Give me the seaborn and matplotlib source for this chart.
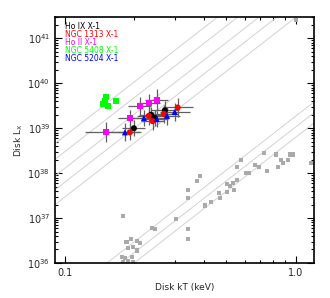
import seaborn as sns
import matplotlib
matplotlib.use('Agg')
import matplotlib.pyplot as plt
import matplotlib.ticker as mticker
import pandas as pd
import numpy as np

# lower sample (grey squares)
grey_kt = [0.178, 0.238, 0.245, 0.303, 0.341, 0.341, 0.341, 0.341, 0.372, 0.384,
           0.403, 0.428, 0.464, 0.469, 0.502, 0.518, 0.502, 0.533, 0.556, 0.539,
           0.556, 0.578, 0.608, 0.627, 0.665, 0.692, 0.749, 0.726, 0.819, 0.835,
           0.861, 0.879, 0.923, 0.942, 0.971, 1.0, 1.17,
           0.185, 0.193, 0.205, 0.197, 0.187, 0.205, 0.177, 0.182, 0.195, 0.197,
           0.187, 0.178, 0.211]
grey_lx = [1.1e37, 6.0e36, 5.7e36, 9.5e36, 4.2e37, 2.8e37, 5.7e36, 3.4e36, 6.6e37, 8.5e37,
           1.9e37, 2.3e37, 3.6e37, 2.8e37, 5.7e37, 5.1e37, 3.8e37, 6.0e37, 7.0e37, 4.2e37,
           1.4e38, 2.0e38, 1.0e38, 1.0e38, 1.5e38, 1.4e38, 1.1e38, 2.8e38, 2.6e38, 1.35e38,
           2.0e38, 1.7e38, 2.0e38, 2.6e38, 2.6e38, 2.6e41, 1.7e38,
           2.9e36, 3.4e36, 3.1e36, 2.3e36, 2.2e36, 1.9e36, 1.36e36, 1.3e36, 1.36e36, 1.05e36,
           1.1e36, 1.05e36, 2.8e36]

# ULX sources
sources = ['Ho IX X-1', 'NGC 1313 X-1', 'Ho II X-1', 'NGC 5408 X-1', 'NGC 5204 X-1']
colors = ['black', 'red', 'magenta', '#00ff00', 'blue']
markers = ['o', 'o', 's', 's', '^']

ulx_src = (['Ho IX X-1'] * 4 + ['NGC 1313 X-1'] * 5 + ['Ho II X-1'] * 5
           + ['NGC 5408 X-1'] * 5 + ['NGC 5204 X-1'] * 5)
ulx_kt = [0.199, 0.236, 0.245, 0.271,
          0.191, 0.231, 0.240, 0.268, 0.308,
          0.150, 0.191, 0.211, 0.231, 0.250,
          0.150, 0.149, 0.146, 0.153, 0.166,
          0.182, 0.220, 0.250, 0.277, 0.299]
ulx_lx = [1.0e39, 2.0e39, 1.7e39, 2.5e39,
          8.1e38, 1.9e39, 1.44e39, 2.1e39, 2.9e39,
          8.1e38, 1.7e39, 3.1e39, 3.6e39, 4.2e39,
          4.9e39, 4.0e39, 3.4e39, 3.2e39, 4.0e39,
          8.1e38, 1.7e39, 1.6e39, 1.9e39, 2.3e39]
# errors in dex
kt_err = [0.05, 0.05, 0.06, 0.06,
          0.05, 0.05, 0.05, 0.06, 0.065,
          0.09, 0.05, 0.05, 0.05, 0.05,
          0.0, 0.0, 0.0, 0.0, 0.0,
          0.06, 0.05, 0.05, 0.055, 0.065]
lx_err = [0.18, 0.18, 0.18, 0.2,
          0.18, 0.2, 0.2, 0.2, 0.22,
          0.22, 0.18, 0.2, 0.2, 0.25,
          0.0, 0.0, 0.0, 0.0, 0.0,
          0.2, 0.18, 0.18, 0.2, 0.2]

# T^4 lines: log Lx at kT = 1 keV
upper_norm = [42.83, 42.48, 42.11, 41.80, 41.47]
lower_norm = [39.27, 39.03, 38.80]

sns.set_style('ticks')
plt.rcParams['font.family'] = ['DejaVu Sans']

fig = plt.figure(figsize=(3.3, 2.98), dpi=100)
ax = fig.add_axes([55 / 330, 1 - 263 / 298, 259 / 330, 246 / 298])

xmin, xmax = 0.0906, 1.2
ymin, ymax = 1e36, 3e41
t = np.array([xmin, xmax])
for n in upper_norm + lower_norm:
    ax.plot(t, 10 ** n * t ** 4, color='#d2d2d2', lw=0.7, zorder=1)

grey = pd.DataFrame({'kT': grey_kt, 'Lx': grey_lx})
sns.scatterplot(data=grey, x='kT', y='Lx', ax=ax, marker='s', s=9,
                color='#aaaaaa', edgecolor='none', zorder=2)

ulx = pd.DataFrame({'source': ulx_src, 'kT': ulx_kt, 'Lx': ulx_lx,
                    'kt_err': kt_err, 'lx_err': lx_err})
has_err = ulx[ulx['kt_err'] > 0]
k = has_err['kT'].values
l = has_err['Lx'].values
ke = has_err['kt_err'].values
le = has_err['lx_err'].values
ax.errorbar(k, l, xerr=[k - k / 10 ** ke, k * 10 ** ke - k],
            yerr=[l - l / 10 ** le, l * 10 ** le - l],
            fmt='none', ecolor='#606060', elinewidth=0.9, capsize=0, zorder=3)

sns.scatterplot(data=ulx, x='kT', y='Lx', hue='source', style='source',
                hue_order=sources, style_order=sources,
                palette=dict(zip(sources, colors)),
                markers=dict(zip(sources, markers)),
                s=19, edgecolor='none', legend=False, ax=ax, zorder=4)

ax.set_xscale('log')
ax.set_yscale('log')
ax.set_xlim(xmin, xmax)
ax.set_ylim(ymin, ymax)

ax.xaxis.set_major_locator(mticker.FixedLocator([0.1, 1.0]))
ax.xaxis.set_major_formatter(mticker.FixedFormatter(['0.1', '1.0']))
ax.xaxis.set_minor_locator(mticker.FixedLocator([0.2, 0.3, 0.4, 0.5, 0.6, 0.7, 0.8, 0.9]))
ax.xaxis.set_minor_formatter(mticker.NullFormatter())
ax.yaxis.set_major_locator(mticker.LogLocator(base=10, numticks=10))
ax.yaxis.set_minor_locator(mticker.LogLocator(base=10, subs=np.arange(2, 10), numticks=10))
ax.yaxis.set_minor_formatter(mticker.NullFormatter())

ax.tick_params(which='both', direction='in', top=True, right=True,
               labelsize=7, width=0.8, color='black')
ax.tick_params(which='major', length=5)
ax.tick_params(which='minor', length=2.5)
for sp in ax.spines.values():
    sp.set_linewidth(1.2)
    sp.set_color('black')

ax.set_xlabel('Disk kT (keV)', fontsize=6.5, labelpad=4)
ax.set_ylabel('Disk L$_{\\rm X}$', fontsize=6.5, labelpad=2)

for i, (name, c) in enumerate(zip(sources, colors)):
    ax.text(0.039, 0.962 - i * 0.033, name, color=c, fontsize=5.5,
            transform=ax.transAxes, va='center', ha='left')

fig.savefig('out.png', dpi=100)
